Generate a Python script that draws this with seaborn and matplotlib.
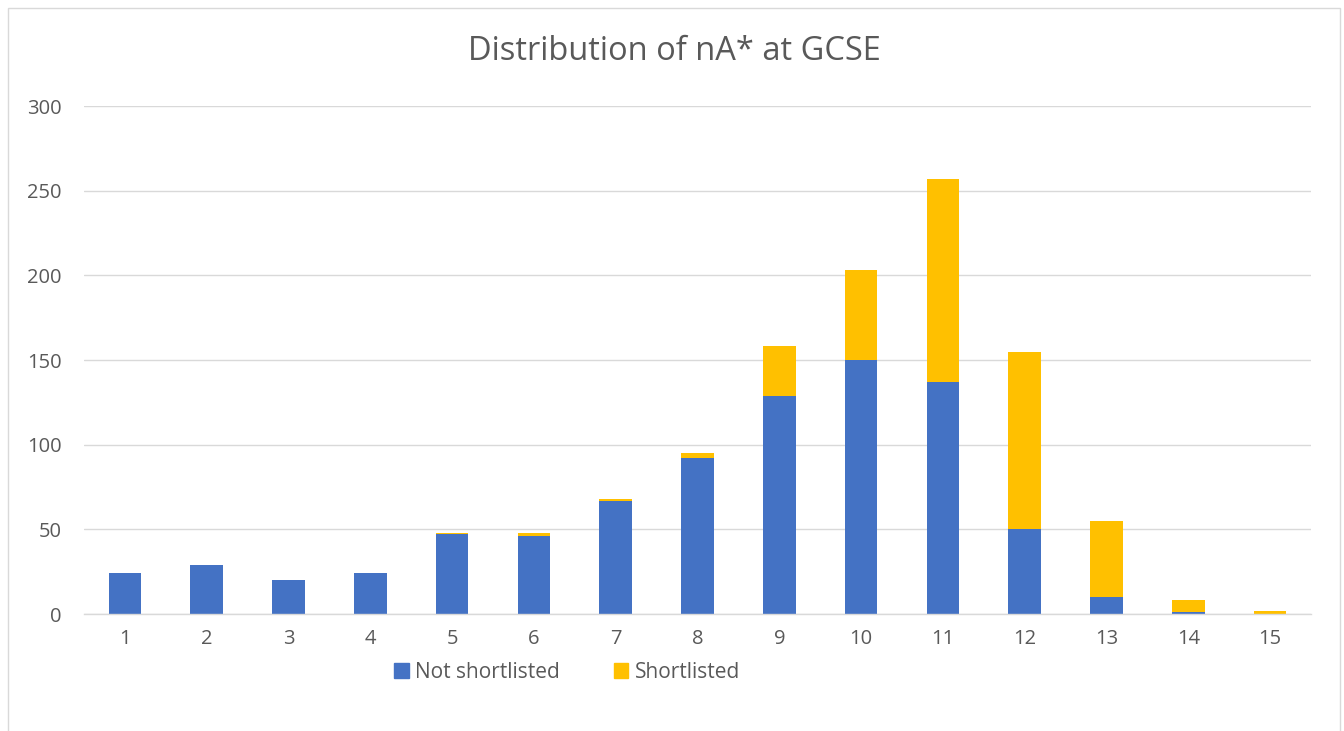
import matplotlib
matplotlib.use("Agg")
import matplotlib.pyplot as plt
import seaborn as sns
import pandas as pd
from matplotlib.patches import Rectangle, Patch

categories = [str(i) for i in range(1, 16)]
not_shortlisted = [24, 29, 20, 24, 47, 46, 67, 92, 129, 150, 137, 50, 10, 1, 0]
shortlisted = [0, 0, 0, 0, 1, 2, 1, 3, 29, 53, 120, 105, 45, 7, 2]
y_ticks = [0, 50, 100, 150, 200, 250, 300]

sns.set_theme(style="white")
plt.rcParams['font.family'] = ['Open Sans', 'DejaVu Sans']

BLUE = "#4472C4"
YELLOW = "#FFC000"
TXT = "#595959"
GRID = "#D9D9D9"

df = pd.DataFrame({
    "cat": categories,
    "ns": not_shortlisted,
    "sl": shortlisted,
})
df["total"] = df["ns"] + df["sl"]

fig = plt.figure(figsize=(13.44, 7.31), dpi=100)
ax = fig.add_axes([84/1344, 1-614/731, (1311-84)/1344, (614-106)/731])

sns.barplot(data=df, x="cat", y="total", color=YELLOW, width=0.4,
            saturation=1, ax=ax, order=categories, linewidth=0)
sns.barplot(data=df, x="cat", y="ns", color=BLUE, width=0.4,
            saturation=1, ax=ax, order=categories, linewidth=0)

ax.set_xlim(-0.5, 14.5)
ax.set_ylim(0, 300)
ax.set_yticks(y_ticks)
ax.set_yticklabels([str(v) for v in y_ticks])
ax.set_xlabel("")
ax.set_ylabel("")
ax.yaxis.grid(True, color=GRID, linewidth=1.0)
ax.set_axisbelow(True)
for s in ["top", "right", "left"]:
    ax.spines[s].set_visible(False)
ax.spines["bottom"].set_color(GRID)
ax.spines["bottom"].set_linewidth(1.0)
ax.tick_params(axis="y", length=0, pad=16, labelsize=14.5, labelcolor=TXT)
ax.tick_params(axis="x", length=0, pad=11, labelsize=14.5, labelcolor=TXT)

fig.text(674/1344, 1-52/731, "Distribution of nA* at GCSE", ha="center",
         va="center", fontsize=23.5, color=TXT)

handles = [Patch(facecolor=BLUE, edgecolor=BLUE, label="Not shortlisted"),
           Patch(facecolor=YELLOW, edgecolor=YELLOW, label="Shortlisted")]
fig.legend(handles=handles, loc="center", bbox_to_anchor=(567/1344, 1-672/731),
           ncol=2, frameon=False, fontsize=15, labelcolor=TXT,
           handlelength=0.7, handleheight=0.7, handletextpad=0.3, columnspacing=2.6)

border = Rectangle((8/1344, -0.05), (1340-8)/1344, 1.05-8/731, transform=fig.transFigure,
                   fill=False, edgecolor=GRID, linewidth=1.0, clip_on=False)
fig.patches.append(border)

fig.savefig("out.png", dpi=100)
